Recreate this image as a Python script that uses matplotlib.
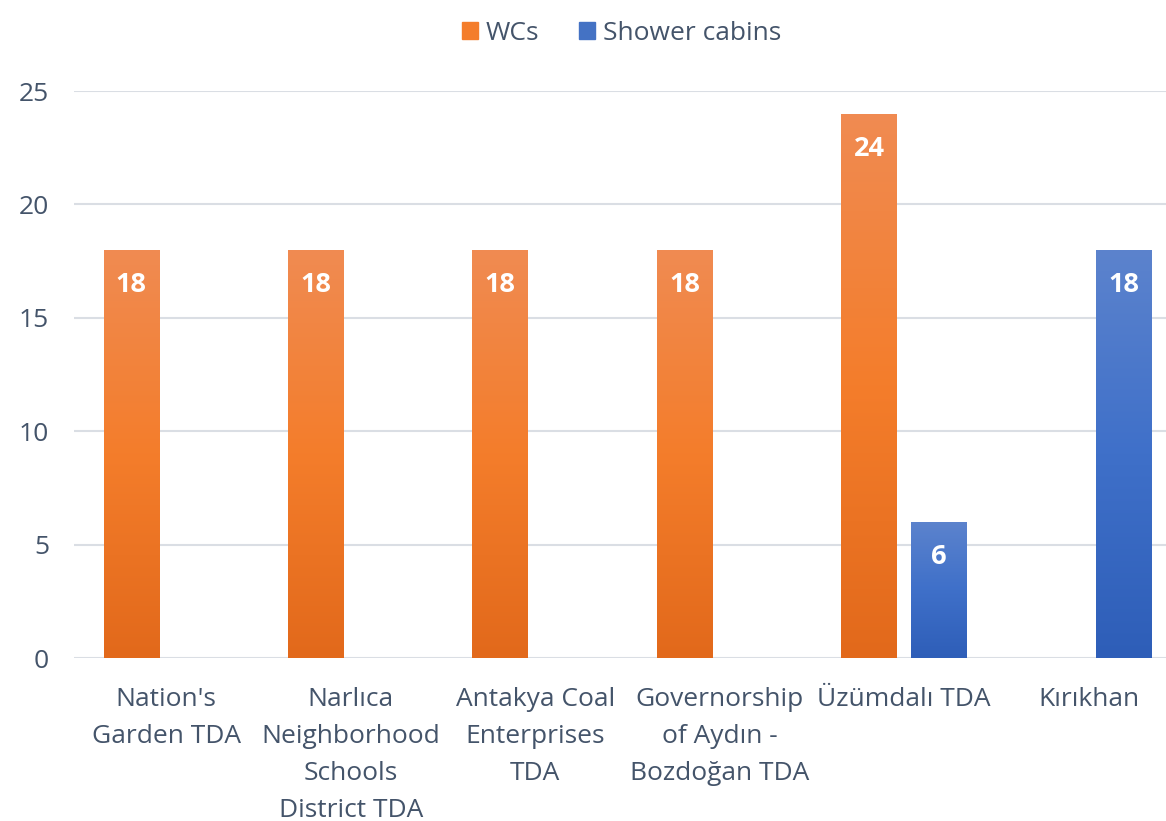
import numpy as np
import matplotlib
matplotlib.use('Agg')
import matplotlib.pyplot as plt
from matplotlib.colors import LinearSegmentedColormap
from matplotlib.patches import Patch

plt.rcParams['font.family'] = ['Open Sans', 'DejaVu Sans']

# data
categories = ["Nation's\nGarden TDA", "Narlıca\nNeighborhood\nSchools\nDistrict TDA",
              "Antakya Coal\nEnterprises\nTDA", "Governorship\nof Aydın -\nBozdoğan TDA",
              "Üzümdalı TDA", "Kırıkhan"]
wcs = [18, 18, 18, 18, 24, 0]
showers = [0, 0, 0, 0, 6, 18]

text_col = '#44546A'
orange_cmap = LinearSegmentedColormap.from_list('o', ['#E2691B', '#F47D2B', '#F08B52'])
blue_cmap = LinearSegmentedColormap.from_list('b', ['#2E5EB8', '#3F70C9', '#5C83CD'])

fig = plt.figure(figsize=(11.66, 8.21), dpi=100)
ax = fig.add_axes([74/1166, 163/821, 1 - 74/1166, (658-91)/821])

x = np.arange(len(categories))
w = 0.30
off = 0.19


def grad_bars(xs, vals, cmap):
    bars = ax.bar(xs, vals, w, color='none', zorder=3)
    grad = np.linspace(0, 1, 256).reshape(-1, 1)
    for b, v in zip(bars, vals):
        if v <= 0:
            continue
        x0 = b.get_x()
        im = ax.imshow(grad, cmap=cmap, origin='lower', aspect='auto',
                       extent=[x0, x0 + w, 0, v], zorder=3)
        im.set_clip_path(b)
        ax.text(x0 + w/2, v - 1.55, str(v), ha='center', va='center',
                color='white', fontsize=19.5, fontweight='bold', zorder=4)
    return bars


grad_bars(x - off, wcs, orange_cmap)
grad_bars(x + off, showers, blue_cmap)

ax.set_xlim(-0.5, 5.42)
ax.set_ylim(0, 25)
ax.set_yticks([0, 5, 10, 15, 20, 25])
ax.yaxis.grid(True, color='#DADEE4', linewidth=1.5, zorder=0)
ax.set_axisbelow(True)
for s in ax.spines.values():
    s.set_visible(False)
ax.tick_params(axis='y', length=0, pad=18, labelsize=19, labelcolor=text_col)
ax.set_xticks(x)
ax.set_xticklabels(categories, fontsize=19, color=text_col, linespacing=1.62)
ax.tick_params(axis='x', length=0, pad=21)

handles = [Patch(color='#F47D2B', label='WCs'), Patch(color='#4472C4', label='Shower cabins')]
fig.legend(handles=handles, loc='center', bbox_to_anchor=(0.533, 1 - 33/821), ncol=2,
           frameon=False, fontsize=19, handlelength=0.6, handleheight=0.6,
           handletextpad=0.3, columnspacing=1.5, labelcolor=text_col)

fig.savefig('out.png', dpi=100)
